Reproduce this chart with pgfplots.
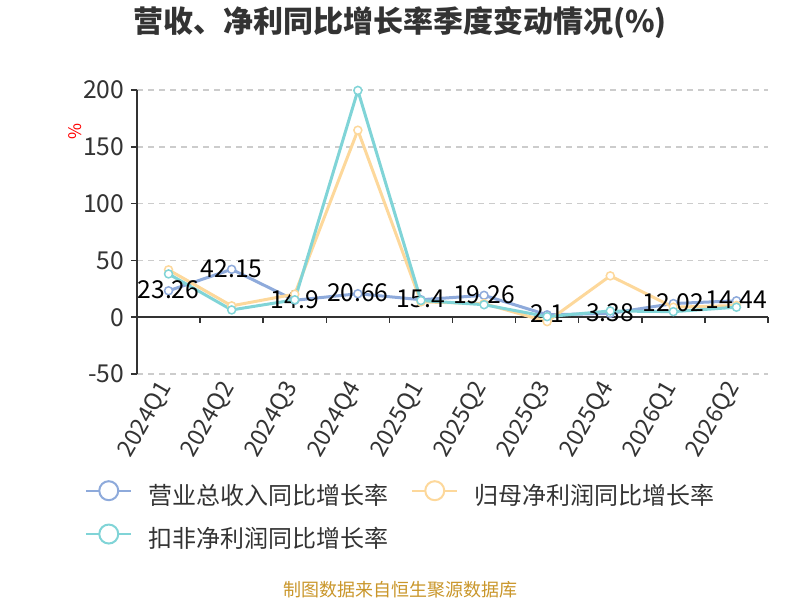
\documentclass[border=0pt]{standalone}
\usepackage{fontspec}
\setmainfont{Noto Sans CJK SC}
\usepackage{pgfplots}
\pgfplotsset{compat=1.18}
\newdimen\px \px=0.75pt
\definecolor{cblue}{HTML}{8EAADB}
\definecolor{corange}{HTML}{FDD89B}
\definecolor{cteal}{HTML}{80D4D7}
\definecolor{ctxt}{HTML}{333333}
\definecolor{cgrid}{HTML}{CCCCCC}
\definecolor{csrc}{HTML}{C9962A}
\begin{document}
\begin{tikzpicture}
\useasboundingbox (0,0) rectangle (600pt,-450pt);
\node[font=\fontsize{22.5}{26}\selectfont\bfseries, text=ctxt] at (300pt,-17pt) {营收、净利同比增长率季度变动情况(\%)};
\node[font=\fontsize{13}{14}\selectfont, text=red, rotate=90] at (56pt,-99pt) {\%};
\node[font=\fontsize{13.5}{16}\selectfont, text=csrc] at (300pt,-442.5pt) {制图数据来自恒生聚源数据库};
\begin{axis}[
  at={(102.75pt,-280.5pt)}, anchor=south west,
  scale only axis, width=473.25pt, height=213pt,
  xmin=0, xmax=10, ymin=-50, ymax=200,
  axis lines=left,
  axis line style={-, draw=ctxt, line width=1.5\px},
  x axis line style={draw=none},
  tick align=outside,
  ytick={-50,0,50,100,150,200},
  ytick style={draw=ctxt, line width=1.5\px},
  major tick length=6\px,
  xtick={0.5,1.5,...,9.5},
  xticklabels={2024Q1,2024Q2,2024Q3,2024Q4,2025Q1,2025Q2,2025Q3,2025Q4,2026Q1,2026Q2},
  xtick style={draw=none},
  xticklabel style={rotate=60, anchor=east, font=\fontsize{17.5}{20}\selectfont, text=ctxt},
  yticklabel style={font=\fontsize{18.5}{20}\selectfont, text=ctxt, xshift=-2\px},
  /pgf/number format/assume math mode=true,
  ymajorgrids,
  grid style={cgrid, line width=1.5\px, dash pattern=on 6\px off 5\px},
  clip=false,
  legend columns=2,
  legend cell align=left,
  legend style={at={(axis description cs:-0.0824,-0.373)}, anchor=north west,
    draw=none, fill=none, inner sep=0pt,
    font=\fontsize{18}{22}\selectfont, text=ctxt,
    row sep=17\px,
    nodes={inner sep=0pt},
    /tikz/every odd column/.append style={column sep=16\px},
    /tikz/every even column/.append style={column sep=23\px}},
  legend image code/.code={
    \draw[#1, mark=none, line width=2\px] (0\px,0.35em) -- (45\px,0.35em);
    \draw[#1, mark=none, fill=white, line width=2\px] (22.5\px,0.35em) circle (9.5\px);
  },
]
\draw[ctxt, line width=1.5\px] (axis cs:0,0) -- (axis cs:10,0);
\pgfplotsinvokeforeach{0,...,10}{\draw[ctxt, line width=1.5\px] (axis cs:#1,0) -- ([yshift=-6\px]axis cs:#1,0);}
\addplot[cblue, line width=3\px, mark=*, mark size=4\px,
  mark options={fill=white, draw=cblue, line width=1.5\px},
  nodes near coords, point meta=explicit symbolic,
  every node near coord/.append style={anchor=center, yshift=1\px, font=\fontsize{18.5}{20}\selectfont, text=black}]
  coordinates {(0.5,23.26)[23.26] (1.5,42.15)[42.15] (2.5,14.9)[14.9] (3.5,20.66)[20.66] (4.5,15.4)[15.4] (5.5,19.26)[19.26] (6.5,2.1)[2.1] (7.5,3.38)[3.38] (8.5,12.02)[12.02] (9.5,14.44)[14.44]};
\addlegendentry{营业总收入同比增长率}
\addplot[corange, line width=3\px, mark=*, mark size=4\px,
  mark options={fill=white, draw=corange, line width=1.5\px}]
  coordinates {(0.5,41.7) (1.5,10.0) (2.5,20.3) (3.5,164.6) (4.5,13.5) (5.5,12.0) (6.5,-3.9) (7.5,36.4) (8.5,8.8) (9.5,10.3)};
\addlegendentry{归母净利润同比增长率}
\addplot[cteal, line width=3\px, mark=*, mark size=4\px,
  mark options={fill=white, draw=cteal, line width=1.5\px}]
  coordinates {(0.5,38.1) (1.5,6.4) (2.5,15.3) (3.5,199.6) (4.5,14.7) (5.5,11.0) (6.5,0.5) (7.5,5.5) (8.5,4.9) (9.5,8.8)};
\addlegendentry{扣非净利润同比增长率}
\end{axis}
\end{tikzpicture}
\end{document}
